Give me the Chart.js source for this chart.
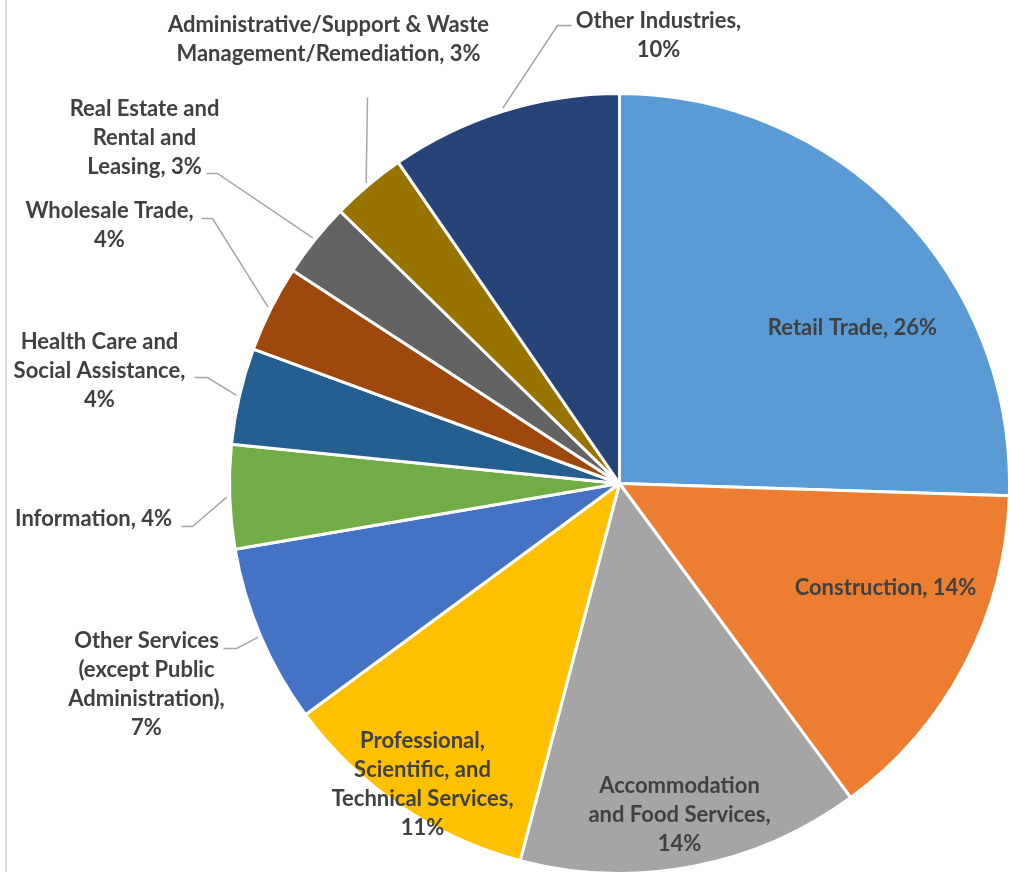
<!DOCTYPE html>
<html>
<head>
<meta charset="utf-8">
<script src="https://cdn.jsdelivr.net/npm/chart.js@4.4.1/dist/chart.umd.min.js"></script>
<style>
  html, body { margin: 0; padding: 0; background: #fff; }
  #wrap { position: relative; width: 1012px; height: 872px; overflow: hidden; }
  #edge { position: absolute; left: 5px; top: 0; width: 2px; height: 872px; background: #d9d9d9; }
</style>
</head>
<body>
<div id="wrap">
  <canvas id="pie" width="1012" height="876"></canvas>
  <div id="edge"></div>
</div>
<script>
const categories = [
  "Retail Trade",
  "Construction",
  "Accommodation and Food Services",
  "Professional, Scientific, and Technical Services",
  "Other Services (except Public Administration)",
  "Information",
  "Health Care and Social Assistance",
  "Wholesale Trade",
  "Real Estate and Rental and Leasing",
  "Administrative/Support & Waste Management/Remediation",
  "Other Industries"
];
const shares = [25.5, 14.4, 14.2, 10.8, 7.4, 4.3, 4.0, 3.6, 3.1, 3.1, 9.6];
const colors = ["#5b9bd5", "#ed7d31", "#a5a5a5", "#ffc000", "#4472c4", "#70ad47",
                "#255e91", "#9e480e", "#636363", "#997300", "#264478"];

// where each data label sits, relative to the pie centre (px)
const labelLayout = [
  { dx: 233, dy: -156, wrap: 300 },
  { dx: 266, dy: 104, wrap: 300 },
  { dx: 60, dy: 302, wrap: 195 },
  { dx: -197, dy: 257, wrap: 195 },
  { dx: -473, dy: 157, wrap: 175, leader: [[-396, 165], [-383, 165]] },
  { dx: -526, dy: 35, wrap: 220, leader: [[-438, 43], [-427, 43]] },
  { dx: -520, dy: -142, wrap: 185, leader: [[-425, -106], [-412, -106]] },
  { dx: -510, dy: -273, wrap: 185, leader: [[-418, -265], [-407, -265]] },
  { dx: -475, dy: -375, wrap: 165, leader: [[-413, -310], [-402, -310]] },
  { dx: -291, dy: -459, wrap: 345, leader: [[-252, -386]] },
  { dx: 39, dy: -463, wrap: 185, leader: [[-48, -458], [-62, -458]] }
];

function wrapText(ctx, text, maxWidth) {
  const words = text.split(" ");
  const lines = [];
  let line = "";
  words.forEach(w => {
    const test = line ? line + " " + w : w;
    if (line && ctx.measureText(test).width > maxWidth) {
      lines.push(line);
      line = w;
    } else {
      line = test;
    }
  });
  if (line) lines.push(line);
  return lines;
}

const pieLabels = {
  id: "pieLabels",
  afterDraw(chart) {
    const ctx = chart.ctx;
    const meta = chart.getDatasetMeta(0);
    const data = chart.data.datasets[0].data;
    const total = data.reduce((a, b) => a + b, 0);
    ctx.save();
    ctx.font = "bold 22px Lato";
    ctx.fillStyle = "#404040";
    ctx.textAlign = "center";
    ctx.textBaseline = "middle";
    meta.data.forEach((arc, i) => {
      const p = arc.getProps(["x", "y", "startAngle", "endAngle", "outerRadius"], true);
      const lay = labelLayout[i];
      const text = chart.data.labels[i] + ", " + Math.round(data[i] / total * 100) + "%";
      if (lay.leader) {
        const mid = (p.startAngle + p.endAngle) / 2;
        const r = p.outerRadius + 3;
        ctx.beginPath();
        ctx.strokeStyle = "#a6a6a6";
        ctx.lineWidth = 1.5;
        lay.leader.forEach((pt, k) => {
          if (k === 0) ctx.moveTo(p.x + pt[0], p.y + pt[1]);
          else ctx.lineTo(p.x + pt[0], p.y + pt[1]);
        });
        ctx.lineTo(p.x + Math.cos(mid) * r, p.y + Math.sin(mid) * r);
        ctx.stroke();
      }
      const lines = wrapText(ctx, text, lay.wrap);
      lines.forEach((ln, k) => {
        ctx.fillText(ln, p.x + lay.dx, p.y + lay.dy + k * 29);
      });
    });
    ctx.restore();
  }
};

new Chart(document.getElementById("pie"), {
  type: "pie",
  data: {
    labels: categories,
    datasets: [{
      data: shares,
      backgroundColor: colors,
      borderColor: "#ffffff",
      borderWidth: 3
    }]
  },
  options: {
    responsive: false,
    animation: false,
    layout: { padding: { left: 228, right: 1, top: 92, bottom: 1 } },
    plugins: {
      legend: { display: false },
      tooltip: { enabled: false }
    }
  },
  plugins: [pieLabels]
});
</script>
</body>
</html>
